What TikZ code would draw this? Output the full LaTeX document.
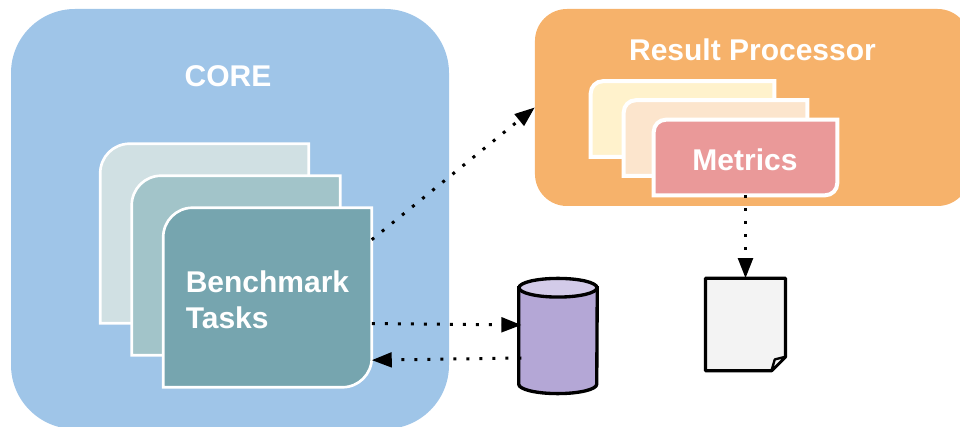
\documentclass[tikz,border=0pt]{standalone}
\usepackage{fontspec}
\setmainfont{Liberation Sans}
\usetikzlibrary{arrows.meta}
\definecolor{coreblue}{HTML}{9FC5E8}
\definecolor{taskone}{HTML}{D0E0E3}
\definecolor{tasktwo}{HTML}{A2C4C9}
\definecolor{taskthree}{HTML}{76A5AF}
\definecolor{resultorange}{HTML}{F6B26B}
\definecolor{metricone}{HTML}{FFF2CC}
\definecolor{metrictwo}{HTML}{FCE5CD}
\definecolor{metricthree}{HTML}{EA9999}
\definecolor{storebody}{HTML}{B4A7D6}
\definecolor{storetop}{HTML}{D3CBE9}
\definecolor{reportgray}{HTML}{F3F3F3}
\tikzset{
  panel/.style={fill=#1,rounded corners=48pt,inner sep=0pt},
  taskcard/.style={minimum width=156pt,minimum height=134.25pt,inner sep=0pt},
  metriccard/.style={minimum width=137.25pt,minimum height=56.25pt,inner sep=0pt},
  title/.style={text=white,font=\bfseries\fontsize{22.5}{27}\selectfont,inner sep=0pt},
  flow/.style={line width=2.25pt,dash pattern=on 2.25pt off 7.5pt,-{Triangle[length=15pt,width=11pt]}},
}
\newcommand{\diagcard}[4]{%
\draw[draw=white,line width=#3,fill=#2,line join=miter] (#1.south west) -- ([yshift=-#4]#1.north west) arc[start angle=180,end angle=90,radius=#4] -- (#1.north east) -- ([yshift=#4]#1.south east) arc[start angle=0,end angle=-90,radius=#4] -- cycle;}
\begin{document}
\begin{tikzpicture}[x=.75pt,y=-.75pt]
\useasboundingbox (0,0) rectangle (960,427);
\node[panel=coreblue,minimum width=328.5pt,minimum height=315pt] (core) at (230,219) {};
\node[title] (coretitle) at (228,76) {CORE};
\node[panel=resultorange,rounded corners=24pt,minimum width=326pt,minimum height=147.75pt] (result) at (752.3,107.5) {};
\node[title] (resulttitle) at (752.5,50) {Result Processor};

\node[taskcard] (tasks1) at (204.5,233.5) {};
\node[taskcard] (tasks2) at (236,265.5) {};
\node[taskcard] (tasks3) at (267.5,297.5) {};
\diagcard{tasks1}{taskone}{2pt}{22pt}
\diagcard{tasks2}{tasktwo}{2pt}{22pt}
\diagcard{tasks3}{taskthree}{2pt}{22pt}
\node[title,align=left,anchor=west] (taskslabel) at (185.5,300) {Benchmark\\Tasks};

\node[metriccard] (metrics1) at (682.5,119) {};
\node[metriccard] (metrics2) at (715.5,138) {};
\node[metriccard] (metrics3) at (745.5,157.5) {};
\diagcard{metrics1}{metricone}{3pt}{9pt}
\diagcard{metrics2}{metrictwo}{3pt}{9pt}
\diagcard{metrics3}{metricthree}{3pt}{9pt}
\node[title] (metricslabel) at (745,160) {Metrics};

\node[minimum width=58.5pt,minimum height=86pt,inner sep=0pt] (store) at (558,336) {};
\draw[line width=2.5pt,fill=storebody] ([yshift=-7pt]store.north west) -- ([yshift=7pt]store.south west) arc[start angle=180,end angle=360,x radius=29.25pt,y radius=7pt] -- ([yshift=-7pt]store.north east) -- cycle;
\draw[line width=2.5pt,fill=storetop] ([yshift=-7pt]store.north) ellipse[x radius=29.25pt,y radius=7pt];

\node[minimum width=59.5pt,minimum height=69pt,inner sep=0pt] (report) at (745.5,324.5) {};
\draw[line width=2.5pt,line join=round,fill=reportgray] (report.north west) -- (report.north east) -- ([yshift=10.5pt]report.south east) -- ([xshift=-10.5pt]report.south east) -- (report.south west) -- cycle;
\draw[line width=1.75pt,line join=round,fill=reportgray] ([xshift=-10.5pt]report.south east) -- ([xshift=-8pt,yshift=8.5pt]report.south east) -- ([yshift=10.5pt]report.south east) -- cycle;

\draw[flow] (tasks3.29) -- (result.west);
\draw[flow] (tasks3.-14) -- ([yshift=8.25pt,xshift=2pt]store.west);
\draw[flow] ([yshift=-16.5pt,xshift=2pt]store.west) -- (tasks3.-31);
\draw[flow] (metrics3.south) -- (report.north);
\end{tikzpicture}
\end{document}
